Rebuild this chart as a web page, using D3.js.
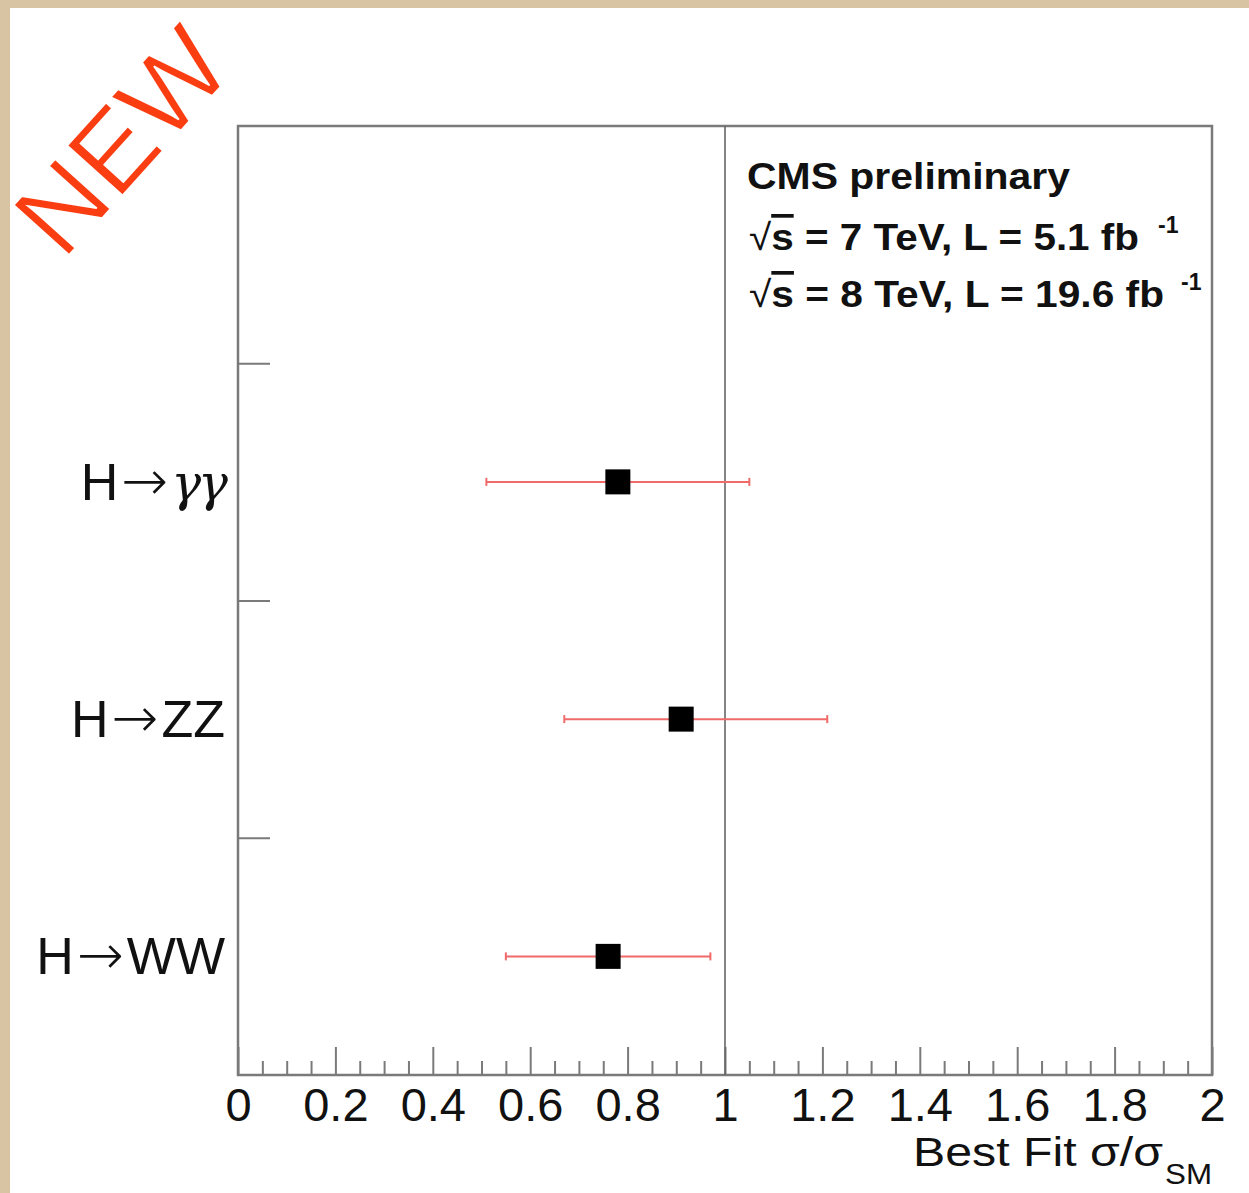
<!DOCTYPE html>
<html>
<head>
<meta charset="utf-8">
<script src="https://cdn.jsdelivr.net/npm/d3@7"></script>
<style>
  body { margin: 0; background: #d8c3a2; }
  svg { display: block; }
  text { font-family: "Liberation Sans", Helvetica, Arial, sans-serif; }
</style>
</head>
<body>
<svg id="chart"></svg>
<script>
const width = 1249, height = 1193;
const margin = { top: 126, right: 37, bottom: 118, left: 238 };

// data
const bands = ["", "H→γγ", "H→ZZ", "H→WW"];
const channels = ["H→γγ", "H→ZZ", "H→WW"];
const bestFit = [0.78, 0.91, 0.76];
const errLow = [0.51, 0.67, 0.55];
const errHigh = [1.05, 1.21, 0.97];
const majorTicks = [0, 0.2, 0.4, 0.6, 0.8, 1, 1.2, 1.4, 1.6, 1.8, 2];
const yTicks = [1, 2, 3];
const smLine = 1;

const svg = d3.select("#chart").attr("width", width).attr("height", height);

// parchment border + white sheet
svg.append("rect").attr("width", width).attr("height", height).attr("fill", "#d8c3a2");
svg.append("rect").attr("x", 10).attr("y", 8)
  .attr("width", width - 10).attr("height", height - 8).attr("fill", "#fff");

const x = d3.scaleLinear().domain([0, 2]).range([margin.left, width - margin.right]);
const yBand = d3.scaleBand().domain(bands).range([margin.top, height - margin.bottom]);
const yLin = d3.scaleLinear().domain([0, 4]).range([height - margin.bottom, margin.top]);

const fmt = d3.format(".2~f");
const minorTicks = d3.range(0, 41).map(i => i * 0.05)
  .filter(v => Math.abs(v * 5 - Math.round(v * 5)) > 1e-6);

const axisColor = "#7a7a7a";
const bottomY = height - margin.bottom;

// x ticks (inward)
svg.append("g").attr("transform", "translate(0," + bottomY + ")")
  .call(d3.axisTop(x).tickValues(majorTicks).tickSize(28).tickFormat(""))
  .call(g => g.select(".domain").remove())
  .call(g => g.selectAll("line").attr("stroke", axisColor).attr("stroke-width", 2));
svg.append("g").attr("transform", "translate(0," + bottomY + ")")
  .call(d3.axisTop(x).tickValues(minorTicks).tickSize(14).tickFormat(""))
  .call(g => g.select(".domain").remove())
  .call(g => g.selectAll("line").attr("stroke", axisColor).attr("stroke-width", 2));

// x labels
svg.append("g").attr("transform", "translate(0," + bottomY + ")")
  .call(d3.axisBottom(x).tickValues(majorTicks).tickSize(0).tickPadding(13).tickFormat(fmt))
  .call(g => g.select(".domain").remove())
  .call(g => g.selectAll("text")
    .attr("font-family", "Liberation Sans, Helvetica, Arial, sans-serif")
    .attr("font-size", 47).attr("fill", "#111"));

// y ticks (inward)
svg.append("g").attr("transform", "translate(" + margin.left + ",0)")
  .call(d3.axisRight(yLin).tickValues(yTicks).tickSize(32).tickFormat(""))
  .call(g => g.select(".domain").remove())
  .call(g => g.selectAll("line").attr("stroke", axisColor).attr("stroke-width", 2));

// category labels: "H" + long arrow + decay products
const catLab = svg.append("g").selectAll("text").data(channels).join("text")
  .attr("x", 225)
  .attr("y", d => yBand(d) + yBand.bandwidth() / 2 + 18)
  .attr("text-anchor", "end")
  .attr("font-size", 52)
  .attr("fill", "#111");
catLab.each(function (d) {
  const t = d3.select(this);
  const parts = d.split("→");
  t.append("tspan").text(parts[0]);
  t.append("tspan").attr("font-family", "DejaVu Sans").attr("font-size", 56)
    .attr("dx", 3).attr("font-weight", 200).text("→");
  const tail = t.append("tspan").attr("dx", 3).text(parts[1]);
  if (parts[1] === "γγ") {
    tail.attr("font-family", "DejaVu Serif").attr("font-style", "italic")
      .attr("font-size", 50).attr("letter-spacing", -3);
  }
});

// frame
svg.append("rect")
  .attr("x", margin.left).attr("y", margin.top)
  .attr("width", x(2) - x(0)).attr("height", bottomY - margin.top)
  .attr("fill", "none").attr("stroke", axisColor).attr("stroke-width", 2.5);

// SM line
svg.append("line")
  .attr("x1", x(smLine)).attr("x2", x(smLine))
  .attr("y1", margin.top).attr("y2", bottomY)
  .attr("stroke", "#666").attr("stroke-width", 1.6);

// error bars
const rows = channels.map((c, i) => ({ c, v: bestFit[i], lo: errLow[i], hi: errHigh[i] }));
const cy = d => yBand(d.c) + yBand.bandwidth() / 2;
const eb = svg.append("g").attr("stroke", "#f06a6a").attr("stroke-width", 2);
eb.selectAll(".bar").data(rows).join("line").attr("class", "bar")
  .attr("x1", d => x(d.lo)).attr("x2", d => x(d.hi))
  .attr("y1", cy).attr("y2", cy);
eb.selectAll(".capl").data(rows).join("line").attr("class", "capl")
  .attr("x1", d => x(d.lo)).attr("x2", d => x(d.lo))
  .attr("y1", d => cy(d) - 4).attr("y2", d => cy(d) + 4);
eb.selectAll(".caph").data(rows).join("line").attr("class", "caph")
  .attr("x1", d => x(d.hi)).attr("x2", d => x(d.hi))
  .attr("y1", d => cy(d) - 4).attr("y2", d => cy(d) + 4);

// markers
svg.append("g").selectAll("rect").data(rows).join("rect")
  .attr("x", d => x(d.v) - 12.5).attr("y", d => cy(d) - 12.5)
  .attr("width", 25).attr("height", 25).attr("fill", "#000");

// axis title
svg.append("text").attr("x", 913).attr("y", 1166)
  .attr("font-size", 41).attr("fill", "#111")
  .attr("textLength", 250).attr("lengthAdjust", "spacingAndGlyphs")
  .text("Best Fit σ/σ");
svg.append("text").attr("x", 1165).attr("y", 1184)
  .attr("font-size", 29).attr("fill", "#111")
  .attr("textLength", 47).attr("lengthAdjust", "spacingAndGlyphs")
  .text("SM");

// CMS label
const lab = svg.append("g").attr("font-weight", "bold").attr("fill", "#111");
lab.append("text").attr("x", 747).attr("y", 189).attr("font-size", 37)
  .attr("textLength", 323).attr("lengthAdjust", "spacingAndGlyphs")
  .text("CMS preliminary");

function energyLine(y, rest, len, supX) {
  const t = lab.append("text").attr("x", 749).attr("y", y).attr("font-size", 37)
    .attr("textLength", len).attr("lengthAdjust", "spacingAndGlyphs");
  t.append("tspan").attr("font-weight", "normal").text("√");
  t.append("tspan").style("text-decoration", "overline").text("s");
  t.append("tspan").text(rest);
  lab.append("text").attr("x", supX).attr("y", y - 17).attr("font-size", 23).text("-1");
}
energyLine(250, " = 7 TeV, L = 5.1 fb", 390, 1158);
energyLine(307, " = 8 TeV, L = 19.6 fb", 415, 1181);

// stamp
svg.append("text")
  .attr("transform", "translate(67,257) rotate(-48)")
  .attr("x", -6).attr("y", 0)
  .attr("font-size", 108).attr("fill", "#fb3d12")
  .attr("stroke", "#fff").attr("stroke-width", 1.5)
  .attr("textLength", 258).attr("lengthAdjust", "spacingAndGlyphs")
  .text("NEW");
</script>
</body>
</html>
